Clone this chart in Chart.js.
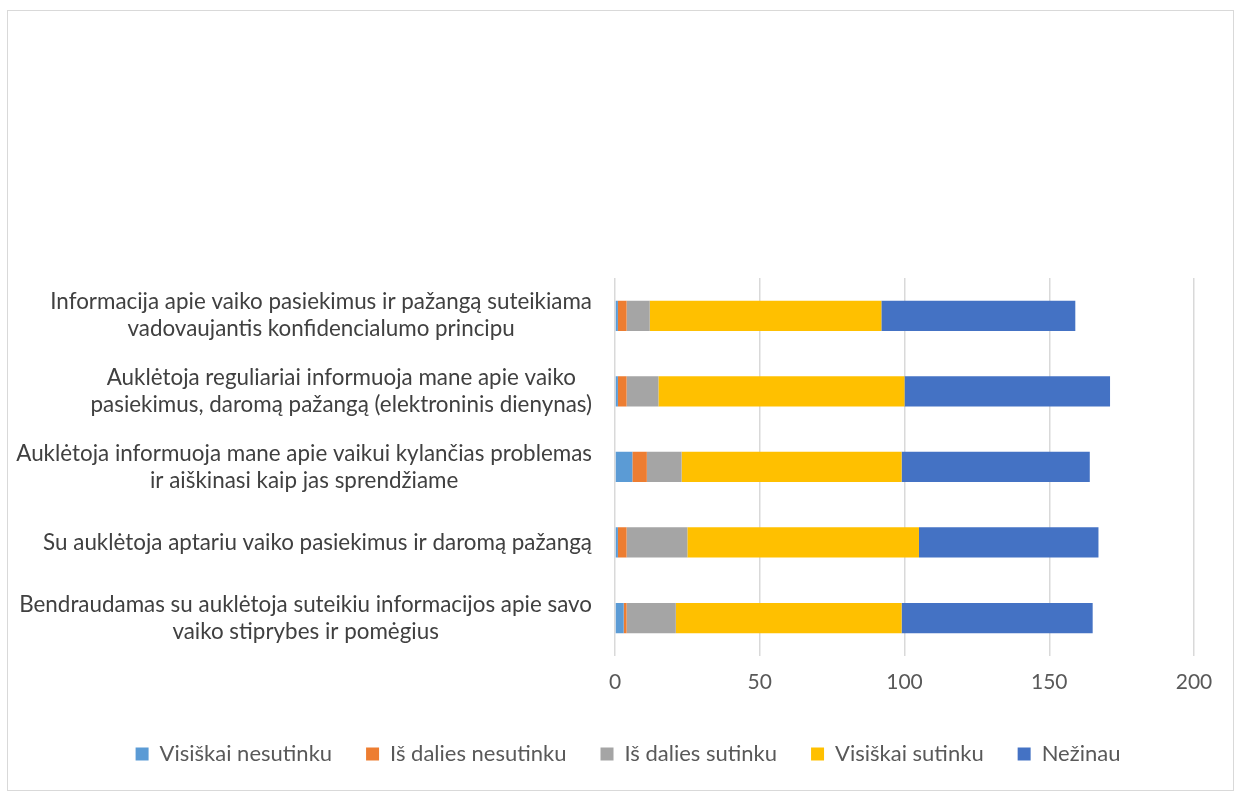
<!DOCTYPE html>
<html>
<head>
<meta charset="utf-8">
<script src="https://cdn.jsdelivr.net/npm/chart.js@4/dist/chart.umd.min.js"></script>
<style>
  body { margin: 0; background: #fff; }
  #frame { position: absolute; left: 7px; top: 10px; width: 1225px; height: 779px; border: 1px solid #d9d9d9; }
  #wrap { position: absolute; left: 0; top: 0; width: 1235px; height: 792px; }
</style>
</head>
<body>
<div id="frame"></div>
<div id="wrap"><canvas id="myChart"></canvas></div>
<script>
// klausimai (eilutėmis, kaip paveiksle)
const categories = [
  ["Informacija apie vaiko pasiekimus ir pažangą suteikiama", "vadovaujantis konfidencialumo principu"],
  ["Auklėtoja reguliariai informuoja mane apie vaiko", "pasiekimus, daromą pažangą (elektroninis dienynas)"],
  ["Auklėtoja informuoja mane apie vaikui kylančias problemas", "ir aiškinasi kaip jas sprendžiame"],
  ["Su auklėtoja aptariu vaiko pasiekimus ir daromą pažangą"],
  ["Bendraudamas su auklėtoja suteikiu informacijos apie savo", "vaiko stiprybes ir pomėgius"]
];

const seriesNames = ["Visiškai nesutinku", "Iš dalies nesutinku", "Iš dalies sutinku", "Visiškai sutinku", "Nežinau"];
const visiskaiNesutinku = [1, 1, 6, 1, 3];
const isDaliesNesutinku = [3, 3, 5, 3, 1];
const isDaliesSutinku = [8, 11, 12, 21, 17];
const visiskaiSutinku = [80, 85, 76, 80, 78];
const nezinau = [67, 71, 65, 62, 66];
const xTicks = [0, 50, 100, 150, 200];

const colors = ["#5B9BD5", "#ED7D31", "#A5A5A5", "#FFC000", "#4472C4"];
const values = [visiskaiNesutinku, isDaliesNesutinku, isDaliesSutinku, visiskaiSutinku, nezinau];

const FONT = "Lato";

// y ašies užrašai: blokas lygiuojamas dešinėn, eilutės centruojamos
const yLabels = {
  id: "yLabels",
  afterDraw(chart) {
    const ctx = chart.ctx;
    const y = chart.scales.y;
    ctx.save();
    ctx.font = "22.4px " + FONT;
    ctx.fillStyle = "#404040";
    ctx.textAlign = "center";
    ctx.textBaseline = "middle";
    categories.forEach((lines, i) => {
      const cy = y.getPixelForTick(i);
      const w = Math.max(...lines.map(l => ctx.measureText(l).width));
      const cx = chart.chartArea.left - 23 - w / 2;
      lines.forEach((l, j) => {
        ctx.fillText(l, cx, cy + (j - (lines.length - 1) / 2) * 27);
      });
    });
    ctx.restore();
  }
};

const ctx = document.getElementById("myChart");

new Chart(ctx, {
  type: "bar",
  data: {
    labels: categories.map(l => l.join(" ")),
    datasets: seriesNames.map((name, i) => ({
      label: name,
      data: values[i],
      backgroundColor: colors[i],
      borderWidth: 0,
      barPercentage: 0.8,
      categoryPercentage: 0.5,
    })),
  },
  options: {
    indexAxis: "y",
    responsive: true,
    maintainAspectRatio: false,
    animation: false,
    layout: { padding: { top: 278, right: 41, bottom: 17, left: 62 } },
    scales: {
      x: {
        stacked: true,
        min: 0,
        max: 200,
        afterBuildTicks: (scale) => { scale.ticks = xTicks.map(v => ({ value: v })); },
        ticks: { color: "#595959", font: { family: FONT, size: 21 }, padding: 14 },
        grid: { color: "#d9d9d9", lineWidth: 1.5, drawTicks: false },
        border: { display: false },
      },
      y: {
        stacked: true,
        ticks: { display: false },
        grid: { display: false },
        border: { display: false },
        afterFit: (scale) => { scale.width = 553; },
      },
    },
    plugins: {
      legend: {
        position: "bottom",
        labels: {
          color: "#595959",
          font: { family: FONT, size: 22 },
          boxWidth: 13,
          boxHeight: 13,
          padding: 34,
        },
      },
      tooltip: { enabled: false },
    },
  },
  plugins: [yLabels],
});
</script>
</body>
</html>
